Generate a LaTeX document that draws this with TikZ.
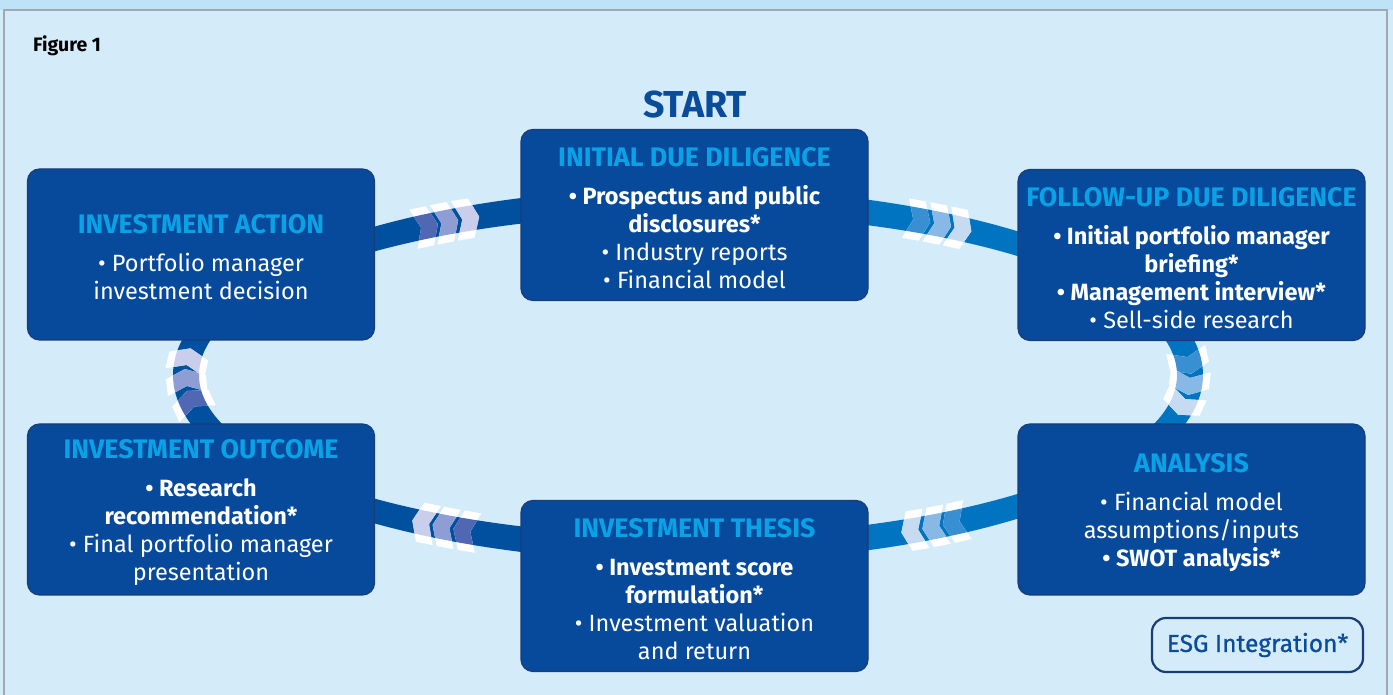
\documentclass[tikz,border=0pt]{standalone}
\usepackage{fontspec}
\setmainfont{Fira Sans}
\newfontfamily\medfont[FakeBold=0.8]{Fira Sans}
\definecolor{bg}{HTML}{D4EBFA}
\definecolor{topstrip}{HTML}{BEE2F8}
\definecolor{framegray}{HTML}{A0A8B0}
\definecolor{boxfill}{HTML}{074A9B}
\definecolor{boxedge}{HTML}{1A3C78}
\definecolor{ttl}{HTML}{0AA2E6}
\definecolor{bandL}{HTML}{0050A0}
\definecolor{bandR}{HTML}{0074C0}
\definecolor{navy}{HTML}{0B4C9A}
\definecolor{dA}{HTML}{5068B4}
\definecolor{dB}{HTML}{8E9ED4}
\definecolor{dC}{HTML}{C8CEEB}
\definecolor{bA}{HTML}{3890D2}
\definecolor{bB}{HTML}{88B8E6}
\definecolor{bC}{HTML}{C6DBF2}
\newcommand\bodyfnt{\fontsize{23.5}{28}\selectfont}
\newcommand\ttl[1]{\rule{0pt}{24.5pt}{\color{ttl}\bfseries\fontsize{26.8}{28}\selectfont #1}}
\newcommand\chv[2]{%
  \pgfmathsetmacro\chx{688+502*cos(#1)}%
  \pgfmathsetmacro\chy{320+174*sin(#1)}%
  \pgfmathsetmacro\cha{atan2(-174*cos(#1),502*sin(#1))}%
  \fill[white,shift={(\chx,\chy)},rotate=\cha] (-12,20) -- (5,20) -- (13,0) -- (5,-20) -- (-12,-20) -- (-4,0) -- cycle;
  \begin{scope}[even odd rule]
    \clip (688,320) ellipse [x radius=515pt, y radius=187pt] (688,320) ellipse [x radius=489pt, y radius=161pt];
    \fill[#2,shift={(\chx,\chy)},rotate=\cha] (-12,20) -- (5,20) -- (13,0) -- (5,-20) -- (-12,-20) -- (-4,0) -- cycle;
  \end{scope}}
\tikzset{
  stage/.style={draw=boxedge, line width=1.2pt, fill=boxfill, rounded corners=12pt,
    minimum width=347pt, minimum height=171pt, align=center, text=white,
    font=\bodyfnt, inner sep=0pt},
}
\begin{document}
\begin{tikzpicture}[x=1pt,y=1pt]
\useasboundingbox (0,0) rectangle (1393,695);
\fill[bg] (0,0) rectangle (1393,695);
\fill[topstrip] (0,685) rectangle (1393,695);
\draw[framegray, line width=1.5pt] (4,-2) -- (4,685) -- (1387,685) -- (1387,-2);

% ring
\begin{scope}
  \clip (0,0) rectangle (688,695);
  \fill[bandL, even odd rule] (688,320) ellipse [x radius=515pt, y radius=187pt] (688,320) ellipse [x radius=489pt, y radius=161pt];
\end{scope}
\begin{scope}
  \clip (688,0) rectangle (1393,695);
  \fill[bandR, even odd rule] (688,320) ellipse [x radius=515pt, y radius=187pt] (688,320) ellipse [x radius=489pt, y radius=161pt];
\end{scope}

% chevrons
\chv{121.59}{dA}\chv{118.9}{dB}\chv{116.21}{dC}
\chv{62.82}{bA}\chv{60.1}{bB}\chv{57.38}{bC}
\chv{4.6}{bA}\chv{-2.3}{bB}\chv{-9.2}{bC}
\chv{-57.78}{bA}\chv{-60.5}{bB}\chv{-63.22}{bC}
\chv{-116.21}{dA}\chv{-118.9}{dB}\chv{-121.59}{dC}
\chv{189.2}{dA}\chv{182.3}{dB}\chv{175.4}{dC}

% boxes
\node[stage] (init) at (694.5,480) {\ttl{INITIAL DUE DILIGENCE}\\[10pt]\textbf{• Prospectus and public}\\\textbf{disclosures*}\\• Industry reports\\• Financial model};
\node[stage] (follow) at (1191.5,440) {\ttl{FOLLOW-UP DUE DILIGENCE}\\[10pt]\textbf{• Initial portfolio manager}\\\textbf{briefing*}\\\textbf{• Management interview*}\\• Sell-side research};
\node[stage] (analysis) at (1191.5,185.5) {\ttl{ANALYSIS}\\[10pt]• Financial model\\assumptions/inputs\\\textbf{• SWOT analysis*}};
\node[stage] (thesis) at (694.5,109) {\ttl{INVESTMENT THESIS}\\[10pt]\textbf{• Investment score}\\\textbf{formulation*}\\• Investment valuation\\and return};
\node[stage] (outcome) at (201,185.5) {\ttl{INVESTMENT OUTCOME}\\[10pt]\textbf{• Research}\\\textbf{recommendation*}\\• Final portfolio manager\\presentation};
\node[stage] (action) at (201,440.5) {\ttl{INVESTMENT ACTION}\\[10pt]• Portfolio manager\\investment decision};

\node[text=navy, font=\bfseries\fontsize{37.5}{40}\selectfont, inner sep=0pt] (start) at (695,590) {START};
\node[text=black, font=\bfseries\fontsize{19.5}{22}\selectfont, inner sep=0pt, anchor=base west] (fig) at (33,643) {Figure 1};
\node[draw=boxedge, line width=2.2pt, fill=bg, rounded corners=14pt, minimum width=211pt, minimum height=54pt,
  text=navy, font=\medfont\fontsize{24.5}{27}\selectfont, inner sep=0pt] (esg) at (1257.5,50) {ESG Integration*};
\end{tikzpicture}
\end{document}
